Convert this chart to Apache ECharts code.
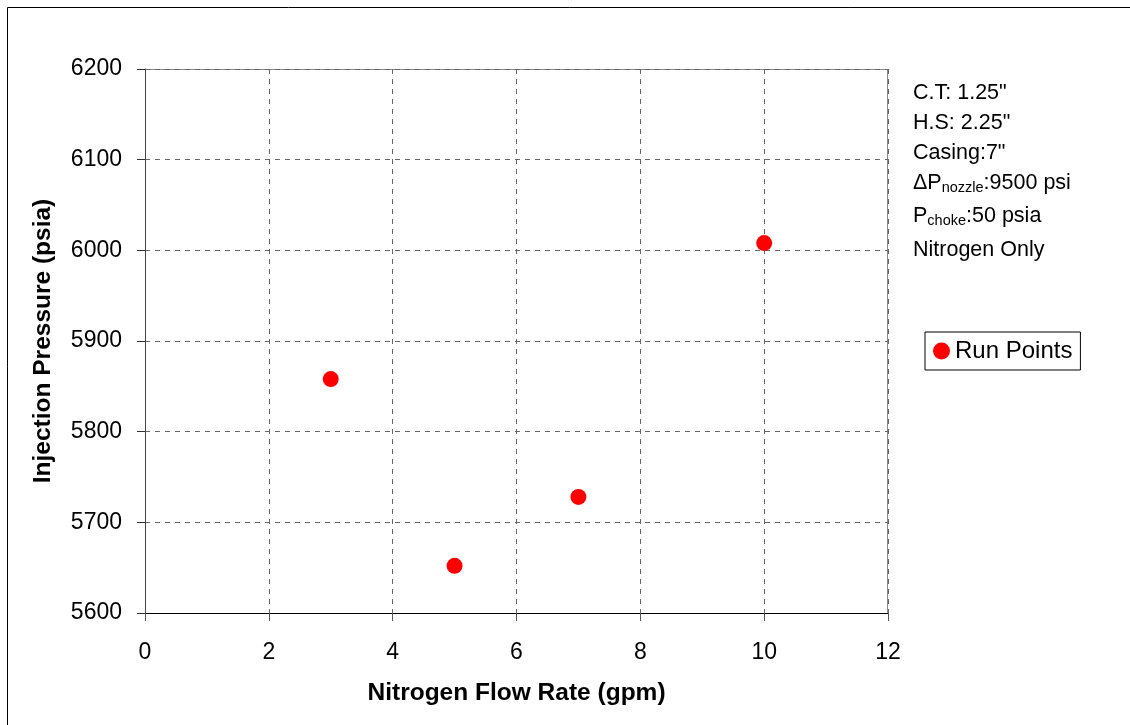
<!DOCTYPE html>
<html>
<head>
<meta charset="utf-8">
<script src="https://cdn.jsdelivr.net/npm/echarts@6/dist/echarts.min.js"></script>
<style>
html, body { margin: 0; padding: 0; background: #fff; }
#chart { width: 1130px; height: 725px; }
</style>
</head>
<body>
<div id="chart"></div>
<script>
// data
var flowRate = [3, 5, 7, 10];
var injPressure = [5858, 5652, 5728, 6008];
var notes = ['C.T: 1.25"', 'H.S: 2.25"', 'Casing:7"', 'Nitrogen Only'];

var chart = echarts.init(document.getElementById('chart'));
var font = 'Liberation Sans, Arial, sans-serif';
var noteSize = 21.5;

var points = flowRate.map(function(x, i) { return [x, injPressure[i]]; });

function noteText(txt, top) {
	return { type: 'text', left: 913, top: top,
		style: { text: txt, font: noteSize + 'px ' + font, fill: '#000' } };
}
function subText(main, sub, rest, top) {
	return { type: 'text', left: 913, top: top,
		style: {
			text: '{m|' + main + '}{s|' + sub + '}{m|' + rest + '}',
			rich: {
				m: { fontSize: noteSize, fontFamily: font, color: '#000' },
				s: { fontSize: 14.5, fontFamily: font, color: '#000', padding: [10, 0, 0, 0] }
			}
		} };
}

chart.setOption({
	animation: false,
	textStyle: { fontFamily: font },
	grid: { left: 145, top: 69, width: 743, height: 544 },
	legend: {
		left: 925, top: 332,
		padding: [7, 8, 7, 8],
		borderColor: '#000', borderWidth: 1,
		itemWidth: 17, itemHeight: 17,
		textStyle: { fontSize: 24, color: '#000', fontFamily: font },
		data: [{ name: 'Run Points', icon: 'circle' }]
	},
	xAxis: {
		type: 'value', min: 0, max: 12, interval: 2,
		name: 'Nitrogen Flow Rate (gpm)', nameLocation: 'middle', nameGap: 68,
		nameTextStyle: { fontSize: 24.5, fontWeight: 'bold', color: '#000', fontFamily: font },
		axisLine: { onZero: false, lineStyle: { color: '#000', width: 1 } },
		axisTick: { inside: false, length: 8, lineStyle: { color: '#555' } },
		axisLabel: { fontSize: 23, color: '#000', margin: 28, fontFamily: font },
		splitLine: { show: true, lineStyle: { color: '#666', type: [5, 5], width: 1 } }
	},
	yAxis: {
		type: 'value', min: 5600, max: 6200, interval: 100,
		name: 'Injection Pressure (psia)', nameLocation: 'middle', nameGap: 89, nameRotate: 90,
		nameTextStyle: { fontSize: 24.5, fontWeight: 'bold', color: '#000', fontFamily: font },
		axisLine: { show: true, onZero: false, lineStyle: { color: '#444', width: 1 } },
		axisTick: { show: true, inside: false, length: 8, lineStyle: { color: '#333' } },
		axisLabel: { fontSize: 23, color: '#000', margin: 23, fontFamily: font,
			formatter: function(v) { return String(v); } },
		splitLine: { show: true, lineStyle: { color: '#666', type: [5, 5], width: 1 } }
	},
	series: [{
		name: 'Run Points',
		type: 'scatter',
		symbol: 'circle',
		symbolSize: 16,
		itemStyle: { color: '#ff0000', opacity: 1 },
		data: points
	}],
	graphic: [
		// outer chart frame
		{ type: 'rect', shape: { x: 7.5, y: 7.5, width: 1140, height: 740 },
			style: { fill: 'none', stroke: '#000', lineWidth: 1 }, silent: true },
		// plot area top/right border
		{ type: 'polyline', shape: { points: [[145, 69.5], [887.5, 69.5], [887.5, 613]] },
			style: { fill: 'none', stroke: '#888', lineWidth: 1 }, silent: true },
		noteText(notes[0], 82),
		noteText(notes[1], 112),
		noteText(notes[2], 142),
		subText('ΔP', 'nozzle', ':9500 psi', 172),
		subText('P', 'choke', ':50 psia', 205),
		noteText(notes[3], 239)
	]
});
</script>
</body>
</html>
